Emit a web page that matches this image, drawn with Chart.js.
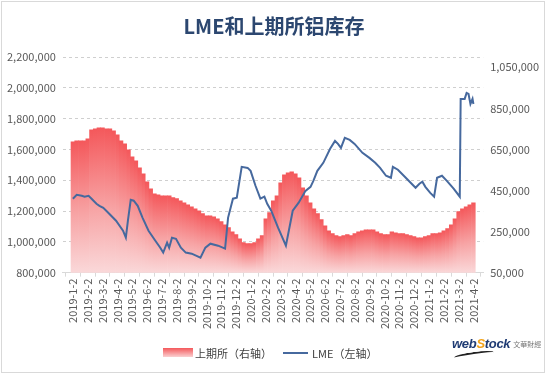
<!DOCTYPE html>
<html>
<head>
<meta charset="utf-8">
<script src="https://cdn.jsdelivr.net/npm/chart.js@4.4.1/dist/chart.umd.min.js"></script>
<style>
  html, body { margin:0; padding:0; background:#fff; }
  #wrap { position:relative; width:548px; height:376px; background:#fff; overflow:hidden;
          font-family:"Noto Sans CJK SC","Noto Sans",sans-serif; }
  #frame { position:absolute; left:1px; top:1px; width:542px; height:370px; border:1px solid #D9D9D9; box-sizing:content-box; }
  #c { position:absolute; left:0; top:0; }
  #title { position:absolute; left:0; width:548px; top:12px; text-align:center; font-size:20px; font-weight:bold; color:#2C4770; line-height:28px; }
  .lg { position:absolute; font-size:11px; color:#404040; line-height:14px; top:346px; white-space:nowrap; }
  #lgbox { position:absolute; left:163px; top:348px; width:30px; height:9px; background:linear-gradient(#F4585B,#FAD0D1); }
  #lgline { position:absolute; left:283px; top:352px; width:25px; height:2px; background:#46699E; }
  #logo { position:absolute; left:452px; top:334px; font-family:"Liberation Sans",Arial,sans-serif; white-space:nowrap; }
  #logo .w { font-size:13px; font-weight:bold; font-style:italic; color:#1F3B73; letter-spacing:-0.3px; }
  #logo .s { color:#F2A31B; }
  #logo .cn { font-family:"Noto Sans CJK TC",sans-serif; font-size:7px; color:#777; margin-left:3px; vertical-align:1px; }
  #swoosh { position:absolute; left:454px; top:352px; width:40px; height:4px; border-top:2px solid #222; border-radius:50% 50% 0 0; transform:rotate(-8deg); }
</style>
</head>
<body>
<div id="wrap">
  <div id="frame"></div>
  <canvas id="c" width="548" height="376"></canvas>
  <div id="title">LME和上期所铝库存</div>
  <div id="lgbox"></div>
  <div class="lg" style="left:195px">上期所（右轴）</div>
  <div id="lgline"></div>
  <div class="lg" style="left:312px">LME（左轴）</div>
  <div id="logo"><span class="w">web<span class="s">S</span>tock</span><span class="cn">文華財經</span></div>
  <div id="swoosh"></div>
</div>
<script>
// Tick labels of the month axis (one per month, starting 2019-1-2)
const monthLabels = ['2019-1-2','2019-2-2','2019-3-2','2019-4-2','2019-5-2','2019-6-2','2019-7-2','2019-8-2','2019-9-2','2019-10-2','2019-11-2','2019-12-2',
  '2020-1-2','2020-2-2','2020-3-2','2020-4-2','2020-5-2','2020-6-2','2020-7-2','2020-8-2','2020-9-2','2020-10-2','2020-11-2','2020-12-2',
  '2021-1-2','2021-2-2','2021-3-2','2021-4-2'];

// SHFE (上期所) aluminium stocks, weekly readings (one every quarter month from 2019-1-2), right axis
const SHFE_STEP_MONTHS = 0.25;
const shfeValues = [687000,692000,692000,692000,701000,745000,750000,755000,755000,750000,
  750000,740000,721000,692000,677000,648000,614000,594000,560000,531000,
  492000,458000,434000,429000,424000,424000,424000,415000,410000,400000,
  390000,380000,371000,361000,351000,337000,327000,327000,322000,312000,
  298000,283000,269000,249000,235000,215000,196000,191000,191000,196000,
  215000,230000,312000,342000,400000,424000,487000,526000,536000,541000,
  531000,512000,463000,424000,390000,361000,337000,308000,278000,254000,
  240000,230000,225000,230000,235000,230000,240000,249000,254000,259000,
  259000,259000,249000,240000,235000,235000,249000,244000,240000,240000,
  235000,230000,225000,220000,220000,225000,230000,240000,240000,244000,
  254000,264000,283000,312000,347000,361000,371000,380000,390000];

// LME aluminium stocks (left axis): time in months since 2019-1-2, and value
const lmeMonths = [0,0.26,0.6,0.79,1.06,1.26,1.59,1.79,2.05,2.45,2.91,3.38,3.57,3.71,3.9,4.1,4.37,4.7,5.1,5.56,
  5.89,6.09,6.35,6.49,6.68,6.95,7.28,7.61,8.01,8.6,8.93,9.27,9.79,10.26,10.46,10.79,11.05,11.38,11.78,11.98,
  12.31,12.64,12.91,13.1,13.37,13.83,14.36,14.82,15.22,15.68,16.02,16.21,16.48,16.88,17.34,17.67,17.87,18.07,18.33,18.66,
  18.99,19.52,19.99,20.38,20.71,21.11,21.44,21.57,21.91,22.44,23.1,23.36,23.56,23.76,24.09,24.35,24.55,24.88,25.21,25.68,
  26.08,26.14,26.41,26.54,26.67,26.8,26.94,27.0];
const lmeValues = [1280000,1305000,1299000,1293000,1299000,1280000,1247000,1234000,1221000,1182000,1137000,1072000,1027000,1137000,1273000,1267000,1234000,1156000,1072000,1007000,
  962000,930000,994000,962000,1027000,1020000,962000,930000,923000,897000,962000,988000,975000,956000,1156000,1280000,1286000,1487000,1480000,1461000,
  1364000,1280000,1293000,1247000,1202000,1092000,975000,1202000,1254000,1331000,1357000,1396000,1461000,1513000,1604000,1655000,1636000,1610000,1675000,1662000,
  1636000,1578000,1545000,1513000,1480000,1429000,1416000,1487000,1468000,1416000,1351000,1377000,1390000,1357000,1318000,1293000,1416000,1429000,1396000,1344000,
  1293000,1928000,1928000,1967000,1960000,1895000,1928000,1895000];

const leftTicks = [800000,1000000,1200000,1400000,1600000,1800000,2000000,2200000];
const rightTicks = [50000,250000,450000,650000,850000,1050000];

const shfePoints = shfeValues.map((v, i) => ({ x: i * SHFE_STEP_MONTHS, y: v }));
const lmePoints = lmeValues.map((v, i) => ({ x: lmeMonths[i], y: v }));

const tickFont = { family: '"Noto Sans CJK SC","Noto Sans",sans-serif', size: 11 };
const fmt = v => Number(v).toLocaleString('en-US');

function barGradient(c) {
  const chart = c.chart;
  const area = chart.chartArea;
  if (!area || c.type !== 'data' || !c.parsed) return '#F6898B';
  const top = chart.scales.yR.getPixelForValue(c.parsed.y);
  const g = chart.ctx.createLinearGradient(0, top, 0, area.bottom);
  g.addColorStop(0, '#F4585B');
  g.addColorStop(0.55, '#F7A3A4');
  g.addColorStop(1, '#FAD8D9');
  return g;
}

new Chart(document.getElementById('c'), {
  data: {
    datasets: [
      { type: 'line', label: 'LME（左轴）', data: lmePoints, xAxisID: 'x', yAxisID: 'yL',
        borderColor: '#46699E', borderWidth: 2, pointRadius: 0, tension: 0, fill: false, order: 0 },
      { type: 'bar', label: '上期所（右轴）', data: shfePoints, xAxisID: 'x', yAxisID: 'yR',
        backgroundColor: barGradient, borderWidth: 0, barPercentage: 1, categoryPercentage: 1, order: 1 }
    ]
  },
  options: {
    responsive: false,
    animation: false,
    layout: { padding: { left: 0, right: 2, top: 57, bottom: 45 } },
    plugins: { legend: { display: false }, title: { display: false }, tooltip: { enabled: false } },
    scales: {
      x: {
        type: 'linear', min: -0.17, max: 27.15,
        afterBuildTicks: s => { s.ticks = monthLabels.map((l, i) => ({ value: i })); },
        ticks: { autoSkip: false, minRotation: 90, maxRotation: 90, color: '#595959', font: tickFont, padding: 2,
                 callback: v => monthLabels[v] },
        grid: { drawOnChartArea: false, drawTicks: true, tickLength: 4, color: '#D9D9D9' },
        border: { display: true, color: '#D9D9D9' }
      },
      yL: {
        type: 'linear', position: 'left', min: 800000, max: 2200000,
        afterBuildTicks: s => { s.ticks = leftTicks.map(v => ({ value: v })); },
        ticks: { color: '#595959', font: tickFont, padding: 7, callback: fmt },
        grid: { color: '#CFCFCF', lineWidth: 1, drawTicks: false },
        border: { display: false, dash: [3, 3] }
      },
      yR: {
        type: 'linear', position: 'right', min: 50000, max: 1100000,
        afterBuildTicks: s => { s.ticks = rightTicks.map(v => ({ value: v })); },
        ticks: { color: '#595959', font: tickFont, padding: 7, callback: fmt },
        grid: { display: false, drawTicks: false },
        border: { display: false }
      }
    }
  }
});
</script>
</body>
</html>
